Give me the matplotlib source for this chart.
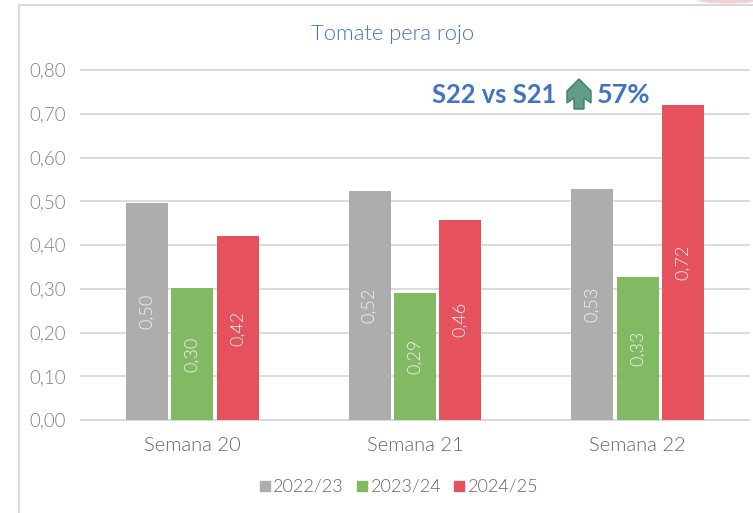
import matplotlib.pyplot as plt
from matplotlib.patches import Ellipse, Polygon
from matplotlib.lines import Line2D
import numpy as np

plt.rcParams["font.family"] = ["Lato", "DejaVu Sans"]

W, H = 753, 513
PESO = 300

# datos
semanas = ["Semana 20", "Semana 21", "Semana 22"]
campanias = ["2022/23", "2023/24", "2024/25"]
v_2022 = [0.497, 0.523, 0.527]
v_2023 = [0.302, 0.290, 0.327]
v_2024 = [0.420, 0.458, 0.720]
series = [v_2022, v_2023, v_2024]
colores = ["#ADADAD", "#82B963", "#E5525E"]
ticks_y = [0.0, 0.1, 0.2, 0.3, 0.4, 0.5, 0.6, 0.7, 0.8]


def px(x, y):
    """pixel de la imagen (origen arriba a la izquierda) a coordenadas de figura"""
    return x / W, 1 - y / H


fig = plt.figure(figsize=(W / 100, H / 100), dpi=100)
ax = fig.add_axes([81 / W, 1 - 420 / H, (749 - 81) / W, 350 / H])

x = np.arange(len(semanas))
for i, valores in enumerate(series):
    barras = ax.bar(x + (i - 1) * 0.204, valores, width=0.188, color=colores[i], zorder=3)
    for b, v in zip(barras, valores):
        ax.text(
            b.get_x() + b.get_width() / 2,
            v / 2,
            f"{v:.2f}".replace(".", ","),
            rotation=90,
            ha="center",
            va="center",
            color="#F2F2F2",
            fontsize=13,
            fontweight=PESO,
            zorder=4,
        )

ax.set_xlim(-0.5, 2.5)
ax.set_ylim(0, 0.8)
ax.set_yticks(ticks_y)
ax.set_yticklabels(
    [f"{t:.2f}".replace(".", ",") for t in ticks_y], color="#7F7F7F", fontsize=13.5, fontweight=PESO
)
ax.set_xticks(x)
ax.set_xticklabels(semanas, color="#666666", fontsize=14.5, fontweight=PESO)
ax.tick_params(axis="both", length=0)
ax.tick_params(axis="y", pad=11)
ax.tick_params(axis="x", pad=12)
ax.grid(axis="y", color="#D9D9D9", linewidth=1.3, zorder=0)
ax.set_axisbelow(True)
for lado in ["top", "right", "left"]:
    ax.spines[lado].set_visible(False)
ax.spines["bottom"].set_color("#D9D9D9")
ax.spines["bottom"].set_linewidth(1.3)
for linea in ax.get_ygridlines():
    linea.set_clip_on(False)

# titulo y anotacion
fig.text(*px(393, 34), "Tomate pera rojo", ha="center", va="center", color="#4472C4", fontsize=15.8, fontweight=PESO)
fig.text(*px(432, 95), "S22 vs S21", ha="left", va="center", color="#4472C4", fontsize=18.4, fontweight="bold")
fig.text(*px(597, 95), "57%", ha="left", va="center", color="#4472C4", fontsize=19.5, fontweight="bold")

# flecha verde
flecha = [(579, 79), (591, 91), (591, 103), (584, 98), (584, 109), (574, 109), (574, 98), (567, 103), (567, 91)]
fig.add_artist(
    Polygon(
        [px(a, b) for a, b in flecha],
        closed=True,
        transform=fig.transFigure,
        facecolor="#5F9E85",
        edgecolor="#3F7F68",
        linewidth=1,
    )
)

# leyenda
handles = [
    Line2D([], [], linestyle="", marker="s", markersize=7.5, color=c, label=n)
    for c, n in zip(colores, campanias)
]
fig.legend(
    handles=handles,
    loc="center",
    bbox_to_anchor=px(398, 487),
    ncol=3,
    frameon=False,
    labelcolor="#666666",
    handlelength=0.75,
    handletextpad=0.1,
    columnspacing=0.62,
    prop={"size": 13, "weight": PESO},
)

# marco de la captura
fig.add_artist(Line2D([19 / W, 19 / W], [0, 1 - 5 / H], color="#D9D9D9", linewidth=1.5))
fig.add_artist(Line2D([19 / W, 1], [1 - 5 / H, 1 - 5 / H], color="#D9D9D9", linewidth=1.5))

# resto rojizo arriba a la derecha
fig.add_artist(
    Ellipse(px(728, 0), 60 / W, 7 / H, transform=fig.transFigure, facecolor="#F3D0D2", edgecolor="none")
)

fig.savefig("out.png", dpi=100)
